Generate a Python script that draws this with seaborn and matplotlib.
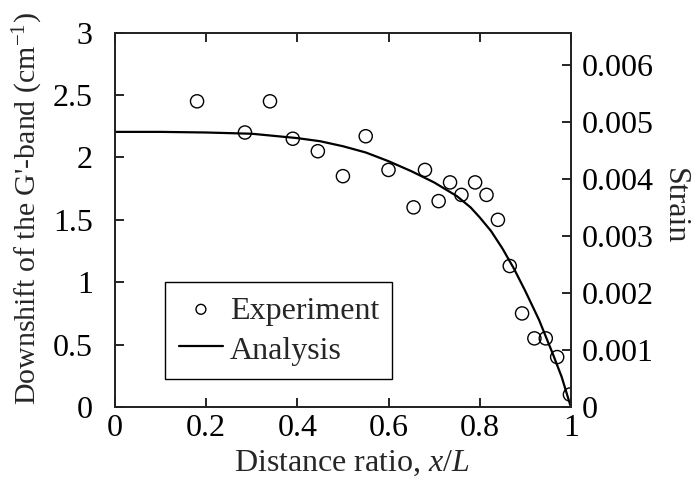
import matplotlib
matplotlib.use("Agg")
import matplotlib.pyplot as plt
import seaborn as sns
import pandas as pd

# Measured Raman downshift along the fibre
exp_x = [0.18, 0.285, 0.34, 0.39, 0.445, 0.50, 0.55, 0.60, 0.655, 0.68, 0.71,
         0.735, 0.76, 0.79, 0.815, 0.84, 0.866, 0.893, 0.92, 0.945, 0.97, 0.998]
exp_y = [2.45, 2.20, 2.45, 2.15, 2.05, 1.85, 2.17, 1.90, 1.60, 1.90, 1.65,
         1.80, 1.70, 1.80, 1.70, 1.50, 1.13, 0.75, 0.55, 0.55, 0.40, 0.10]

# Analytical shear-lag prediction
ana_x = [0.0, 0.1, 0.2, 0.3, 0.4, 0.45, 0.5, 0.55, 0.6, 0.65, 0.7, 0.75,
         0.78, 0.8, 0.825, 0.85, 0.875, 0.9, 0.93, 0.96, 0.98, 1.0]
ana_y = [2.205, 2.205, 2.20, 2.19, 2.155, 2.13, 2.09, 2.04, 1.97, 1.89, 1.80,
         1.69, 1.60, 1.52, 1.41, 1.27, 1.11, 0.93, 0.70, 0.43, 0.24, 0.0]

x_ticks = [0, 0.2, 0.4, 0.6, 0.8, 1]
x_tick_labels = ["0", "0.2", "0.4", "0.6", "0.8", "1"]
y_ticks = [0, 0.5, 1, 1.5, 2, 2.5, 3]
y_tick_labels = ["0", "0.5", "1", "1.5", "2", "2.5", "3"]
strain_ticks = [0, 0.001, 0.002, 0.003, 0.004, 0.005, 0.006]
strain_tick_labels = ["0", "0.001", "0.002", "0.003", "0.004", "0.005", "0.006"]
strain_max = 0.00657

sns.set_style("ticks")
plt.rcParams["font.family"] = ["Liberation Serif", "DejaVu Serif"]
plt.rcParams["mathtext.fontset"] = "custom"
plt.rcParams["mathtext.rm"] = "Liberation Serif"
plt.rcParams["mathtext.it"] = "Liberation Serif:italic"

FS = 23
LW = 1.2

fig = plt.figure(figsize=(6.97, 4.90), dpi=100)
ax = fig.add_axes([0.165, 0.1694, 0.654, 0.7639])

exp_df = pd.DataFrame({"x": exp_x, "y": exp_y})
ana_df = pd.DataFrame({"x": ana_x, "y": ana_y})

sns.lineplot(data=ana_df, x="x", y="y", ax=ax, color="black", linewidth=1.6,
             label="Analysis", sort=False, zorder=2)
sns.scatterplot(data=exp_df, x="x", y="y", ax=ax, marker="o", s=90,
                facecolor="none", edgecolor="black", linewidth=1.0,
                label="Experiment", zorder=3)

ax.set_xlim(0, 1)
ax.set_ylim(0, 3)
ax.set_xticks(x_ticks)
ax.set_xticklabels(x_tick_labels)
ax.set_yticks(y_ticks)
ax.set_yticklabels(y_tick_labels)

for s in ax.spines.values():
    s.set_visible(True)
    s.set_linewidth(LW)
    s.set_color("black")

ax.tick_params(axis="x", direction="in", top=True, bottom=True, length=6.5,
               width=LW, labelsize=FS, pad=5, colors="black")
ax.tick_params(axis="y", direction="in", left=True, right=False, length=6.5,
               width=LW, labelsize=FS, pad=16, colors="black")

ax.set_xlabel(r"Distance ratio, $\mathit{x}$/$\mathit{L}$", fontsize=FS,
              va="center")
ax.xaxis.set_label_coords(0.52, -0.15)
ax.set_ylabel(r"Downshift of the G'-band (cm$^{-1}$)", fontsize=21.5,
              va="center")
ax.yaxis.set_label_coords(-0.19, 0.53)

# Strain scale on the right
ax2 = ax.twinx()
ax2.set_ylim(0, strain_max)
ax2.set_yticks(strain_ticks)
ax2.set_yticklabels(strain_tick_labels)
ax2.tick_params(axis="y", direction="in", right=True, left=False, length=6.5,
                width=LW, labelsize=FS, pad=8, colors="black")
for s in ax2.spines.values():
    s.set_linewidth(LW)
ax2.set_ylabel("Strain", fontsize=FS, rotation=270, va="center")
ax2.yaxis.set_label_coords(1.228, 0.537)

handles, labels = ax.get_legend_handles_labels()
order = [labels.index("Experiment"), labels.index("Analysis")]
leg = ax.legend([handles[i] for i in order], [labels[i] for i in order],
                loc="lower left", bbox_to_anchor=(0.11, 0.075),
                borderaxespad=0, frameon=True, fancybox=False,
                edgecolor="black", framealpha=1, fontsize=FS,
                handlelength=1.4, handleheight=0.9, handletextpad=0.2,
                labelspacing=0.25, borderpad=0.42, markerscale=0.75)
leg.get_frame().set_linewidth(1.0)

fig.savefig("out.png", dpi=100)
